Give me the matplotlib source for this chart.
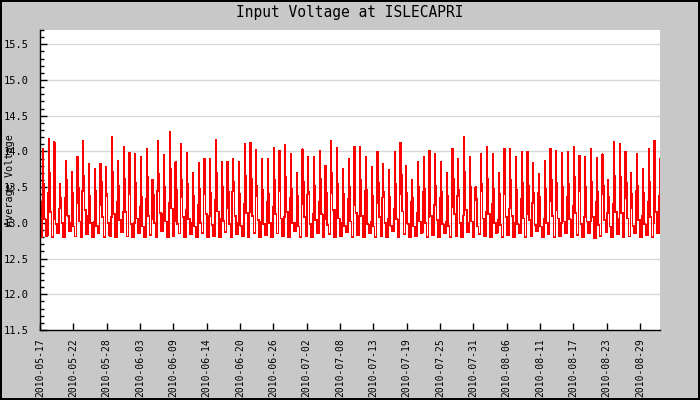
import matplotlib
matplotlib.use("Agg")
import matplotlib.pyplot as plt
import numpy as np
from matplotlib.ticker import MultipleLocator

# daily samples (volts): night, morning, midday peak, afternoon, evening
sample_hours = [0, 8, 11, 13, 17]

low = [12.80, 12.82, 12.80, 12.85, 12.80, 12.88, 12.81, 12.80, 12.84, 12.80,
       12.86, 12.80, 12.82, 12.80, 12.87, 12.81, 12.80, 12.85, 12.80, 12.83,
       12.80, 12.88, 12.80, 12.81, 12.85, 12.80, 12.84, 12.80, 12.86, 12.80,
       12.82, 12.80, 12.87, 12.80, 12.84, 12.81, 12.80, 12.86, 12.80, 12.83,
       12.80, 12.85, 12.81, 12.80, 12.88, 12.80, 12.82, 12.80, 12.86, 12.80,
       12.84, 12.80, 12.81, 12.87, 12.80, 12.83, 12.80, 12.85, 12.80, 12.82,
       12.80, 12.88, 12.80, 12.84, 12.80, 12.81, 12.86, 12.80, 12.83, 12.80,
       12.85, 12.80, 12.82, 12.80, 12.87, 12.80, 12.84, 12.81, 12.80, 12.86,
       12.80, 12.83, 12.80, 12.85, 12.80, 12.82, 12.88, 12.80, 12.84, 12.80,
       12.81, 12.86, 12.80, 12.83, 12.80, 12.85, 12.78, 12.82, 12.87, 12.80,
       12.84, 12.80, 12.81, 12.86, 12.80, 12.83, 12.80, 12.85, 12.80]

morning = [13.30, 13.42, 13.05, 13.20, 13.35, 13.00, 13.28, 13.45, 13.10, 13.02,
           13.25, 13.38, 13.08, 13.30, 13.15, 13.40, 13.00, 13.22, 13.33, 13.05,
           13.45, 13.12, 13.28, 13.02, 13.36, 13.18, 13.00, 13.25, 13.40, 13.10,
           13.32, 13.05, 13.20, 13.44, 13.00, 13.27, 13.15, 13.38, 13.02, 13.30,
           13.22, 13.45, 13.08, 13.35, 13.00, 13.26, 13.40, 13.12, 13.30, 13.05,
           13.42, 13.18, 13.00, 13.33, 13.25, 13.10, 13.45, 13.02, 13.28, 13.36,
           13.06, 13.20, 13.40, 13.00, 13.30, 13.14, 13.44, 13.08, 13.25, 13.35,
           13.02, 13.22, 13.38, 13.10, 13.00, 13.32, 13.45, 13.16, 13.26, 13.04,
           13.40, 13.20, 13.00, 13.34, 13.12, 13.28, 13.42, 13.06, 13.30, 13.18,
           13.00, 13.36, 13.24, 13.44, 13.08, 13.02, 13.30, 13.40, 13.14, 13.26,
           13.05, 13.35, 13.20, 13.45, 13.10, 13.30, 13.00, 13.38, 13.22]

peak = [14.03, 14.18, 14.13, 13.55, 13.87, 13.71, 13.93, 14.15, 13.83, 13.76,
        13.83, 13.78, 14.21, 13.87, 14.06, 13.98, 13.97, 13.92, 14.04, 13.60,
        14.15, 13.95, 14.27, 13.85, 14.11, 13.98, 13.70, 13.84, 13.90, 13.90,
        14.16, 13.85, 13.85, 13.90, 13.86, 14.11,
        14.12, 14.02, 13.90, 13.89, 14.05, 14.01, 14.09, 13.96, 13.70, 14.03,
        13.92, 13.92, 14.01, 13.80, 14.15, 14.05, 13.75, 13.90, 14.07, 14.06,
        13.92, 13.79, 14.00, 13.82, 13.74, 13.99, 14.12, 13.80, 13.60, 13.85,
        13.92, 14.01, 13.97, 13.85, 13.70, 14.04, 13.90,
        14.20, 13.92, 13.50, 13.97, 14.06, 13.97, 13.70, 14.04, 14.04, 13.93,
        14.00, 13.99, 13.84, 13.68, 13.87, 14.04, 14.01, 13.98, 13.99, 14.07,
        13.94, 13.93, 14.04, 13.91, 13.96, 13.60, 14.13, 14.11, 14.00, 13.70,
        13.97, 13.75, 14.04, 14.15, 13.89, 13.70]

afternoon = [13.55, 13.70, 13.48, 13.35, 13.60, 13.42, 13.50, 13.66, 13.38, 13.45,
             13.58, 13.40, 13.72, 13.52, 13.62, 13.44, 13.56, 13.36, 13.64, 13.40,
             13.68, 13.50, 13.75, 13.46, 13.60, 13.54, 13.38, 13.48, 13.62, 13.42,
             13.70, 13.50, 13.44, 13.58, 13.40, 13.66, 13.62, 13.52, 13.46, 13.40,
             13.60, 13.56, 13.64, 13.48, 13.38, 13.58, 13.44, 13.52, 13.62, 13.42,
             13.70, 13.55, 13.40, 13.50, 13.64, 13.60, 13.46, 13.38, 13.56, 13.44,
             13.36, 13.54, 13.68, 13.42, 13.35, 13.50, 13.48, 13.60, 13.52, 13.44,
             13.38, 13.62, 13.46, 13.72, 13.50, 13.34, 13.54, 13.62, 13.48, 13.40,
             13.58, 13.60, 13.46, 13.56, 13.52, 13.42, 13.36, 13.48, 13.60, 13.56,
             13.50, 13.54, 13.64, 13.46, 13.50, 13.58, 13.44, 13.52, 13.36, 13.66,
             13.64, 13.56, 13.40, 13.52, 13.42, 13.58, 13.66, 13.46, 13.40]

evening = [13.05, 13.15, 12.98, 13.00, 13.10, 12.95, 13.02, 13.18, 13.00, 12.96,
           13.08, 13.00, 13.12, 13.04, 13.15, 12.98, 13.06, 12.95, 13.10, 13.00,
           13.14, 13.02, 13.20, 12.98, 13.08, 13.05, 12.95, 13.00, 13.12, 12.97,
           13.16, 13.03, 12.98, 13.10, 12.96, 13.14, 13.10, 13.04, 12.98, 13.00,
           13.12, 13.06, 13.15, 13.00, 12.95, 13.08, 12.98, 13.04, 13.12, 12.97,
           13.18, 13.06, 12.96, 13.02, 13.14, 13.10, 12.98, 12.95, 13.08, 13.00,
           12.96, 13.05, 13.16, 12.98, 12.95, 13.02, 13.00, 13.10, 13.04, 12.98,
           12.96, 13.12, 13.00, 13.18, 13.02, 12.95, 13.06, 13.12, 13.00, 12.97,
           13.08, 13.10, 12.98, 13.06, 13.04, 12.97, 12.95, 13.00, 13.10, 13.06,
           13.02, 13.05, 13.14, 12.98, 13.02, 13.08, 12.97, 13.04, 12.95, 13.15,
           13.14, 13.06, 12.96, 13.04, 12.98, 13.08, 13.15, 13.00, 12.97]

date_labels = ["2010-05-17", "2010-05-22", "2010-05-28", "2010-06-03", "2010-06-09",
               "2010-06-14", "2010-06-20", "2010-06-26", "2010-07-02", "2010-07-08",
               "2010-07-13", "2010-07-19", "2010-07-25", "2010-07-31", "2010-08-06",
               "2010-08-11", "2010-08-17", "2010-08-23", "2010-08-29"]

n = min(len(low), len(morning), len(peak), len(afternoon), len(evening))
day_vals = np.column_stack([low[:n], morning[:n], peak[:n], afternoon[:n], evening[:n]])
t = (np.arange(n)[:, None] + np.array(sample_hours)[None, :] / 24).ravel()
v = day_vals.ravel()

mono = "DejaVu Sans Mono"
fig = plt.figure(figsize=(7, 4), dpi=100, facecolor="#c8c8c8")
fig.patch.set_edgecolor("black")
fig.patch.set_linewidth(1.5)
ax = fig.add_axes([40 / 700, 70 / 400, 620 / 700, 300 / 400])
ax.set_facecolor("white")

ax.plot(t, v, color="#ff0000", lw=0.5, drawstyle="steps-post", antialiased=False)

ax.set_ylim(11.5, 15.7)
ax.set_xlim(0, 104 * 620 / 600)
ax.yaxis.set_major_locator(MultipleLocator(0.5))
ax.yaxis.set_minor_locator(MultipleLocator(0.1))
ax.grid(axis="y", which="major", color="#d8d8d8", lw=1)
ax.set_axisbelow(True)

ticks = np.linspace(0, 104, len(date_labels))
ax.set_xticks(ticks)
ax.set_xticklabels(date_labels, rotation=90, family=mono, fontsize=7)
for lab in ax.get_yticklabels():
    lab.set_family(mono)
    lab.set_fontsize(7.5)
ax.tick_params(axis="both", which="major", direction="in", length=5, width=1, color="black")
ax.tick_params(axis="y", which="minor", direction="in", length=3, width=1)
ax.tick_params(axis="y", pad=8)
ax.tick_params(axis="x", pad=6)

for s in ["top", "right"]:
    ax.spines[s].set_visible(False)
for s in ["left", "bottom"]:
    ax.spines[s].set_linewidth(1)

# the label sits over the tick numbers, as in the original
ax.set_ylabel("Average Voltage", family=mono, fontsize=7.3)
ax.yaxis.set_label_coords(-0.040, 0.5)

fig.text(0.5, 1 - 13 / 400, "Input Voltage at ISLECAPRI", ha="center", va="center",
         family=mono, fontsize=10.5)

fig.savefig("out.png", dpi=100, facecolor=fig.get_facecolor(), edgecolor=fig.patch.get_edgecolor())
